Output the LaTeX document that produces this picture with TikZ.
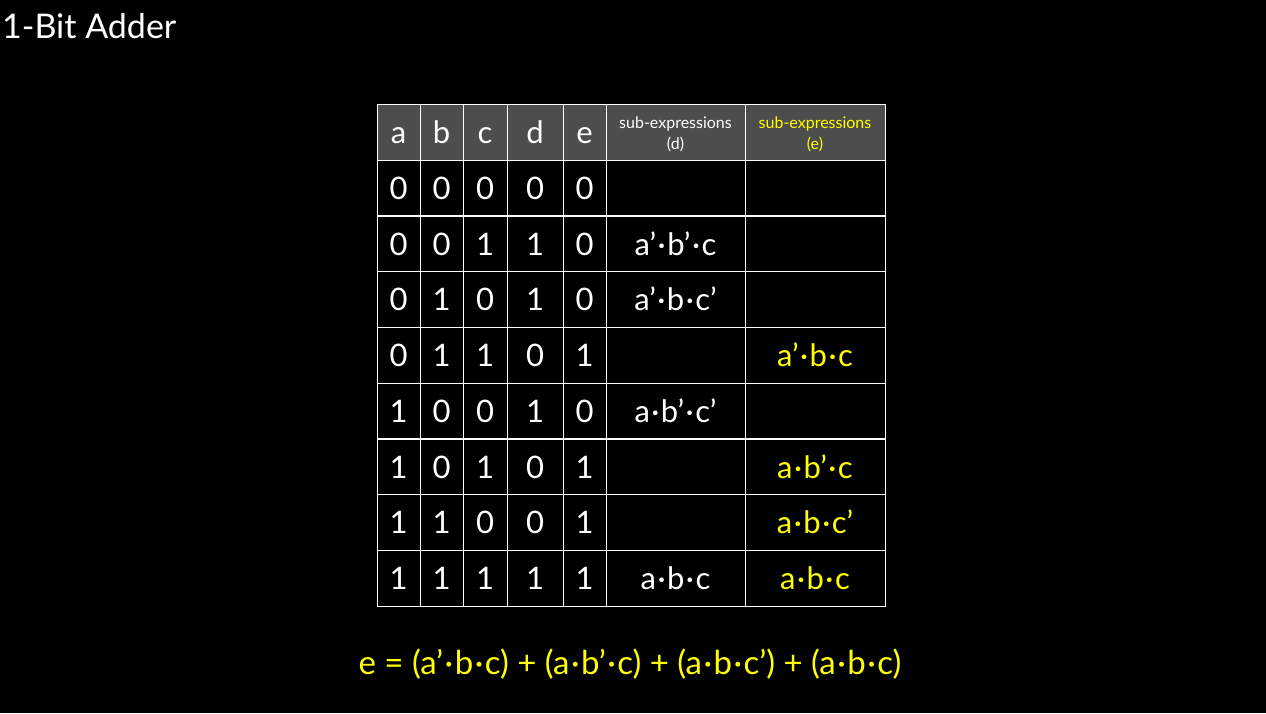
\documentclass[tikz,border=0pt]{standalone}
\usepackage{fontspec}
\setmainfont{Lato}
\definecolor{hdr}{HTML}{4D4D4D}
\definecolor{yel}{HTML}{FFFF00}
\newcommand\dt{\kern1.5pt·\kern1.5pt}
\tikzset{
  cell/.style={draw=white,line width=1pt,inner sep=0pt,text=white,
    font=\fontsize{31}{31}\selectfont,minimum height=56pt,
    text height=23pt,text depth=0pt},
  hcell/.style={cell,fill=hdr},
  subhead/.style={draw=white,line width=1pt,inner sep=0pt,fill=hdr,text=white,
    minimum height=56pt,font=\fontsize{16}{21}\selectfont,align=center},
  ycell/.style={cell,text=yel},
}
\newcommand\trow[9]{%
  \node[cell,minimum width=43pt] (r#1a) at (398.5,#2) {#3};
  \node[cell,minimum width=43pt] (r#1b) at (441.5,#2) {#4};
  \node[cell,minimum width=44pt] (r#1c) at (485,#2) {#5};
  \node[cell,minimum width=56pt] (r#1d) at (535,#2) {#6};
  \node[cell,minimum width=43pt] (r#1e) at (584.5,#2) {#7};
  \node[cell,minimum width=139pt] (r#1sd) at (675.5,#2) {#8};
  \node[ycell,minimum width=140pt] (r#1se) at (815,#2) {#9};
}
\begin{document}
\begin{tikzpicture}[x=1pt,y=-1pt]
\fill[black] (0,0) rectangle (1266,713);
\useasboundingbox (0,0) rectangle (1266,713);
\node[anchor=base west,inner sep=0pt,text=white,font=\fontsize{34}{34}\selectfont] (title) at (2,38) {1-Bit Adder};
% header
\node[hcell,minimum width=43pt] (ha) at (398.5,132) {a};
\node[hcell,minimum width=43pt] (hb) at (441.5,132) {b};
\node[hcell,minimum width=44pt] (hc) at (485,132) {c};
\node[hcell,minimum width=56pt] (hd) at (535,132) {d};
\node[hcell,minimum width=43pt] (he) at (584.5,132) {e};
\node[subhead,minimum width=139pt] (hsd) at (675.5,132) {};
\node[subhead,minimum width=140pt] (hse) at (815,132) {};
\node[text=white,font=\fontsize{16}{21}\selectfont,align=center,inner sep=0pt] (hsdt) at (675.5,134.5) {sub-expressions\\(d)};
\node[text=yel,font=\fontsize{16}{21}\selectfont,align=center,inner sep=0pt] (hset) at (815,134.5) {sub-expressions\\(e)};
% rows
\trow{1}{188}{0}{0}{0}{0}{0}{}{}
\trow{2}{243.5}{0}{0}{1}{1}{0}{a’\dt b’\dt c}{}
\trow{3}{299}{0}{1}{0}{1}{0}{a’\dt b\dt c’}{}
\trow{4}{355}{0}{1}{1}{0}{1}{}{a’\dt b\dt c}
\trow{5}{411}{1}{0}{0}{1}{0}{a\dt b’\dt c’}{}
\trow{6}{466.5}{1}{0}{1}{0}{1}{}{a\dt b’\dt c}
\trow{7}{522}{1}{1}{0}{0}{1}{}{a\dt b\dt c’}
\trow{8}{578}{1}{1}{1}{1}{1}{a\dt b\dt c}{a\dt b\dt c}
% equation
\node[anchor=base,inner sep=0pt,text=yel,font=\fontsize{33}{33}\selectfont] (eq) at (630,674)
  {e = (a’\dt b\dt c) + (a\dt b’\dt c) + (a\dt b\dt c’) + (a\dt b\dt c)};
\end{tikzpicture}
\end{document}
